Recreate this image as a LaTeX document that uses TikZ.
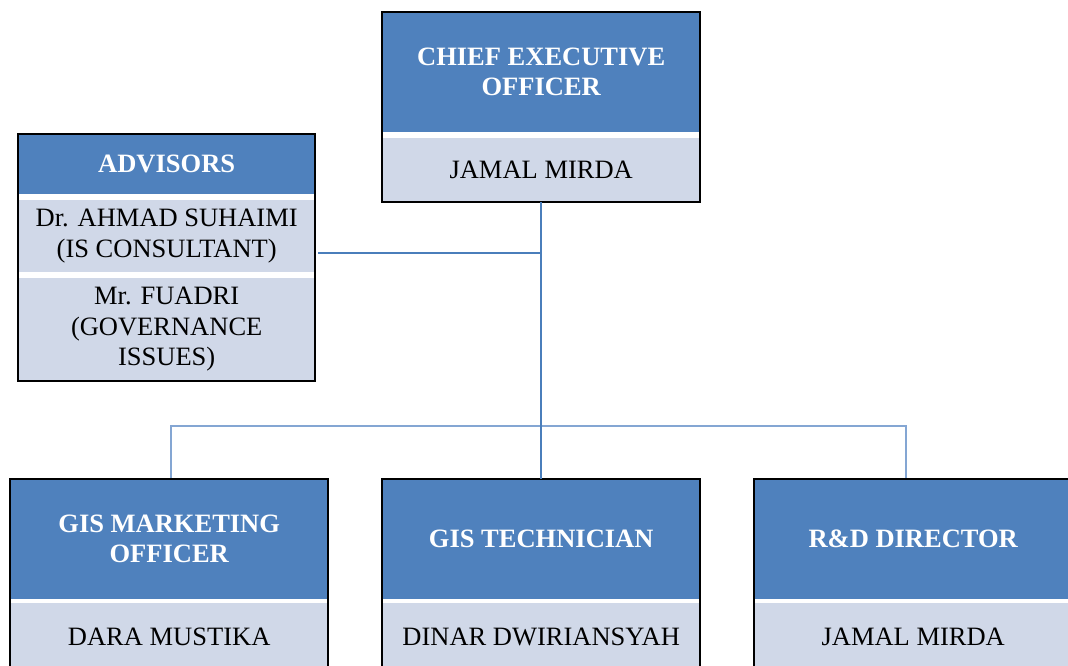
\documentclass[tikz,border=0pt]{standalone}
\usepackage{fontspec}
\setmainfont{Liberation Serif}
\definecolor{hdblue}{HTML}{4F81BD}
\definecolor{nmgray}{HTML}{D0D8E8}
\definecolor{trunkblue}{HTML}{4A7EBB}
\definecolor{branchblue}{HTML}{84A6D3}
\tikzset{
  head/.style={fill=hdblue, text=white, font=\bfseries\fontsize{26.5}{30}\selectfont, align=center, inner sep=0pt, anchor=north west},
  namebox/.style={fill=nmgray, text=black, font=\fontsize{26.5}{30.5}\selectfont, align=center, inner sep=0pt, anchor=north west},
  frame/.style={draw=black, line width=2pt},
  trunk/.style={draw=trunkblue, line width=2pt},
  branch/.style={draw=branchblue, line width=1.6pt},
  sideline/.style={draw=trunkblue, line width=1.3pt}
}
\begin{document}
\begin{tikzpicture}[x=1pt,y=-1pt]
\useasboundingbox (0,0) rectangle (1068,665);
% CEO
\node[head, minimum width=318pt, minimum height=119.5pt] (ceoH) at (382,12) {CHIEF EXECUTIVE\\OFFICER};
\node[namebox, minimum width=318pt, minimum height=64.5pt] (ceoN) at (382,137.5) {JAMAL MIRDA};
\draw[frame] (ceoH.north west) rectangle (ceoN.south east);
% Advisors
\node[head, minimum width=297pt, minimum height=60pt] (advH) at (18,134) {ADVISORS};
\node[namebox, minimum width=297pt, minimum height=71.7pt] (advA) at (18,200) {Dr. AHMAD SUHAIMI\\(IS CONSULTANT)};
\node[namebox, minimum width=297pt, minimum height=103.3pt] (advB) at (18,277.7) {Mr. FUADRI\\(GOVERNANCE\\ISSUES)};
\draw[frame] (advH.north west) rectangle (advB.south east);
% Bottom row
\node[head, minimum width=318pt, minimum height=119.5pt] (mkH) at (10,479) {GIS MARKETING\\OFFICER};
\node[namebox, minimum width=318pt, minimum height=67pt] (mkN) at (10,603) {DARA MUSTIKA};
\draw[frame] (mkH.north west) rectangle (mkN.south east);
\node[head, minimum width=318pt, minimum height=119.5pt] (teH) at (382,479) {GIS TECHNICIAN};
\node[namebox, minimum width=318pt, minimum height=67pt] (teN) at (382,603) {DINAR DWIRIANSYAH};
\draw[frame] (teH.north west) rectangle (teN.south east);
\node[head, minimum width=318pt, minimum height=119.5pt] (rdH) at (754,479) {R\&D DIRECTOR};
\node[namebox, minimum width=318pt, minimum height=67pt] (rdN) at (754,603) {JAMAL MIRDA};
\draw[frame] (rdH.north west) rectangle (rdN.south east);
% Connectors
\coordinate (hub) at (541,425.7);
\coordinate (mktop) at (171,478);
\coordinate (rdtop) at (906,478);
\coordinate (advLink) at (318,253);
\draw[branch] (mktop) |- (hub) -| (rdtop);
\draw[trunk] (ceoN.south) -- (teH.north);
\draw[sideline] (advLink) -- (advLink -| ceoN.south);
\end{tikzpicture}
\end{document}
